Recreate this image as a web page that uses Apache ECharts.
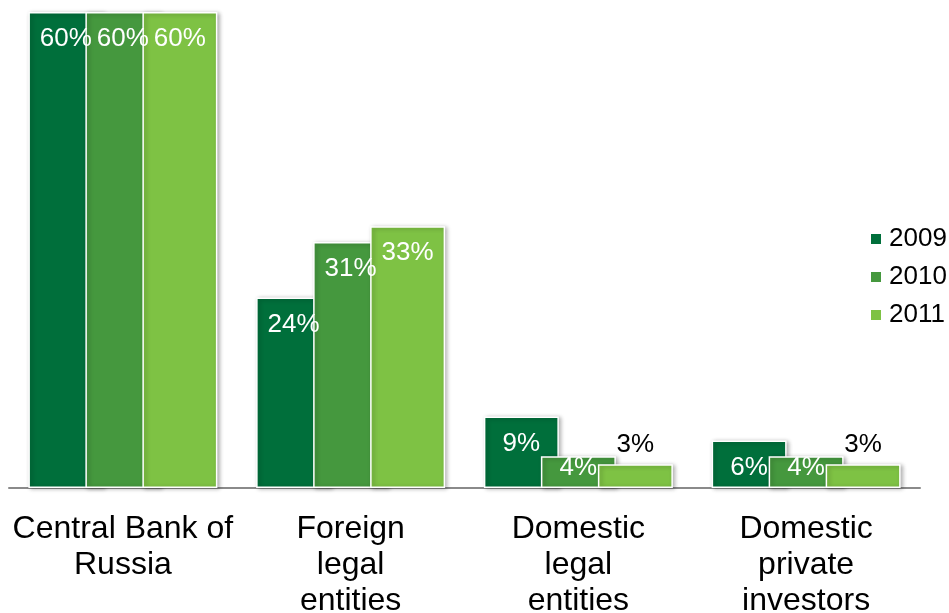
<!DOCTYPE html>
<html>
<head>
<meta charset="utf-8">
<script src="https://cdn.jsdelivr.net/npm/echarts@6/dist/echarts.min.js"></script>
<style>
html,body{margin:0;padding:0;background:#fff;}
#chart{width:949px;height:613px;}
</style>
</head>
<body>
<div id="chart"></div>
<script>
const categories = ["Central Bank of\nRussia", "Foreign\nlegal\nentities", "Domestic\nlegal\nentities", "Domestic\nprivate\ninvestors"];
const seriesNames = ["2009", "2010", "2011"];
const values2009 = [60, 24, 9, 6];
const values2010 = [60, 31, 4, 4];
const values2011 = [60, 33, 3, 3];
const colors = ["#006F3B", "#45983E", "#7EC244"];

const allValues = [values2009, values2010, values2011];
const font = "Liberation Sans, Arial, sans-serif";

function labelFor(v) {
  if (v < 4) {
    return { show: true, position: "top", distance: 6, color: "#000" };
  }
  if (v < 5) {
    return { show: true, position: "insideTop", distance: -1, color: "#fff" };
  }
  return { show: true, position: "insideTop", distance: 14, color: "#fff" };
}

const chart = echarts.init(document.getElementById("chart"), null, { renderer: "canvas" });
chart.setOption({
  animation: false,
  backgroundColor: "#fff",
  grid: { left: 9, right: 29, top: 12, bottom: 125, containLabel: false, outerBoundsMode: "none" },
  legend: {
    orient: "vertical",
    left: 864,
    top: 220,
    itemWidth: 12,
    itemHeight: 12,
    itemGap: 10,
    icon: "rect",
    data: seriesNames,
    textStyle: { fontFamily: font, fontSize: 26, color: "#000", lineHeight: 28, padding: [0, 0, 0, 2] }
  },
  xAxis: {
    type: "category",
    data: categories,
    axisTick: { show: false },
    axisLine: { lineStyle: { color: "#8a8a8a", width: 2 } },
    axisLabel: { fontFamily: font, fontSize: 32, color: "#000", lineHeight: 36, margin: 23, interval: 0 }
  },
  yAxis: {
    type: "value",
    min: 0,
    max: 60,
    show: false,
    splitLine: { show: false }
  },
  series: seriesNames.map((name, i) => ({
    name: name,
    type: "bar",
    barWidth: 75,
    barGap: "-24%",
    itemStyle: {
      color: colors[i],
      borderColor: "#fff",
      borderWidth: 1.5,
      shadowBlur: 4,
      shadowColor: "rgba(0,0,0,0.3)",
      shadowOffsetX: 2,
      shadowOffsetY: 1
    },
    label: { fontFamily: font, fontSize: 26, formatter: "{c}%" },
    data: allValues[i].map(v => ({ value: v, label: labelFor(v) }))
  }))
});
</script>
</body>
</html>
